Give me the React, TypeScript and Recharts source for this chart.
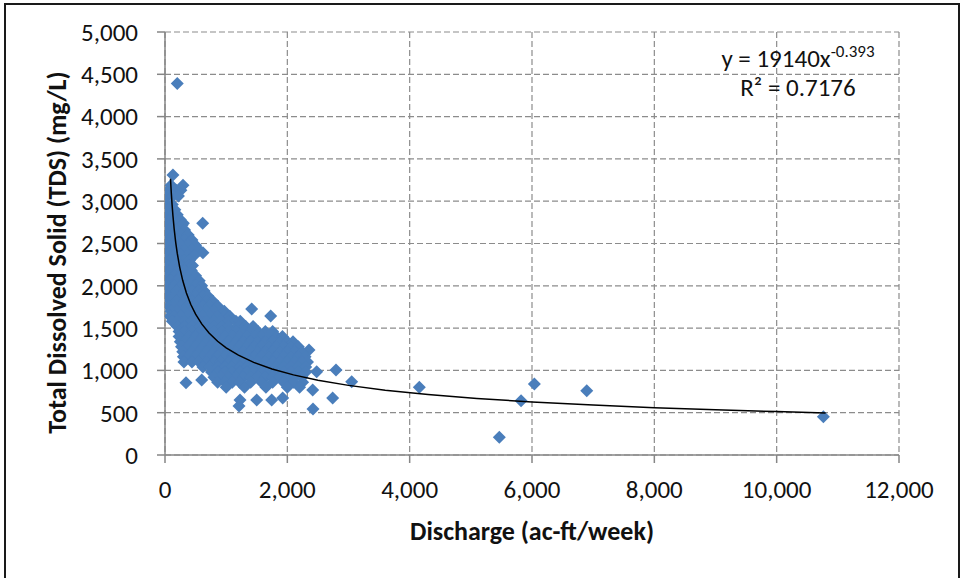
import React from 'react';
import { ScatterChart, Scatter, XAxis, YAxis, CartesianGrid } from 'recharts';

// ---- axis ticks ----
const xTicks = [0, 2000, 4000, 6000, 8000, 10000, 12000];
const yTicks = [0, 500, 1000, 1500, 2000, 2500, 3000, 3500, 4000, 4500, 5000];

// ---- dense cloud, read row by row: [TDS, discharges...] ----
const cloudTds: number[] = [
  3310, 3190, 3130, 3060, 2960, 2900, 2840, 2780, 2740, 2720, 2660, 2600, 2540, 2480, 2420, 2390,
  2360, 2300, 2240, 2180, 2120, 2060, 2000, 1940, 1880, 1820, 1760, 1726, 1700, 1643, 1640, 1580,
  1520, 1460, 1400, 1340, 1280, 1241, 1220, 1160, 1100, 1040, 1005, 985, 980, 920, 886, 866, 855,
  860, 800, 768, 674, 650, 580, 544,
];
const cloudDischarge: number[][] = [
  [130],
  [294, 100],
  [60, 180, 260],
  [40, 130, 220],
  [40, 120],
  [60, 160],
  [40, 130, 200],
  [80, 170, 250],
  [616, 300],
  [40, 150, 280],
  [90, 200, 320],
  [40, 150, 260, 380],
  [90, 200, 320, 440],
  [40, 150, 260, 380, 500],
  [90, 200, 320, 440, 560],
  [620],
  [40, 150, 260, 380, 480],
  [90, 200, 320, 400],
  [40, 150, 260, 380, 450],
  [90, 200, 320, 430],
  [40, 150, 260, 380, 500],
  [90, 200, 320, 440, 560],
  [40, 150, 260, 380, 500, 600],
  [90, 200, 320, 440, 560, 640],
  [40, 150, 260, 380, 500, 620, 700],
  [90, 200, 320, 440, 560, 680, 780],
  [60, 150, 260, 380, 500, 620, 740, 860],
  [1417],
  [100, 200, 320, 440, 560, 680, 800, 920, 970],
  [1728],
  [80, 150, 260, 380, 500, 620, 740, 860, 980, 1060],
  [120, 200, 320, 440, 560, 680, 800, 920, 1040, 1160, 1230],
  [200, 320, 440, 560, 680, 800, 920, 1040, 1200, 1320, 1440],
  [230, 320, 440, 560, 680, 800, 920, 1040, 1160, 1280, 1400, 1520, 1640, 1760],
  [230, 380, 500, 620, 740, 860, 980, 1100, 1220, 1340, 1460, 1580, 1700, 1820, 1920],
  [250, 320, 440, 560, 680, 800, 920, 1040, 1160, 1280, 1400, 1520, 1640, 1760, 1880, 2000, 2093],
  [270, 380, 500, 620, 740, 860, 980, 1100, 1220, 1340, 1460, 1580, 1700, 1820, 1940, 2060, 2180],
  [2354],
  [290, 440, 560, 680, 800, 920, 1040, 1160, 1280, 1400, 1520, 1640, 1760, 1880, 2000, 2120, 2240],
  [300, 380, 500, 620, 740, 860, 980, 1100, 1220, 1340, 1460, 1580, 1700, 1820, 1940, 2060, 2180, 2290],
  [310, 440, 560, 680, 800, 920, 1040, 1160, 1280, 1400, 1520, 1640, 1760, 1880, 2000, 2120, 2240, 2330],
  [620, 740, 860, 980, 1100, 1220, 1340, 1460, 1580, 1700, 1820, 1940, 2060, 2180, 2300],
  [2796],
  [2480],
  [760, 860, 980, 1100, 1220, 1340, 1460, 1580, 1700, 1820, 1940, 2060, 2180, 2300],
  [800, 920, 1040, 1160, 1280, 1400, 1520, 1640, 1760, 1880, 2000, 2120, 2240],
  [600],
  [3052],
  [343],
  [860, 980, 1100, 1220, 1400, 1580, 1760, 1940, 2100, 2250],
  [1000, 1300, 1650, 2000, 2200],
  [2415],
  [1924, 2741],
  [1226, 1499, 1744],
  [1210],
  [2420],
];

// ---- isolated points ----
const outlierDischarge = [200, 4158, 5466, 5821, 6039, 6895, 10764];
const outlierTds = [4390, 800, 209, 642, 839, 760, 453];

// ---- power trendline y = 19140 x^-0.393 ----
const trendCoef = 19140;
const trendExp = -0.393;
const trendX = [90, 100, 115, 130, 150, 175, 200, 240, 290, 350, 420, 500, 600, 720, 860, 1000, 1200,
  1450, 1750, 2100, 2500, 3000, 3600, 4300, 5100, 6000, 7000, 8000, 9000, 10000, 10800];

const points = [
  ...cloudTds.flatMap((t, i) => cloudDischarge[i].map((d) => ({ x: d, y: t }))),
  ...outlierDischarge.map((d, i) => ({ x: d, y: outlierTds[i] })),
];
const trend = trendX.map((x) => ({ x, y: trendCoef * Math.pow(x, trendExp) }));

const FONT = 'Carlito, Calibri, Lato, sans-serif';
const fmt = (v: number) => v.toLocaleString('en-US');

const Diamond = (props: any) => {
  const { cx, cy } = props;
  if (cx == null || cy == null) return <g />;
  const r = 6.5;
  return <path d={`M${cx},${cy - r}L${cx + r},${cy}L${cx},${cy + r}L${cx - r},${cy}Z`} fill="#4A7EBB" />;
};

const YTitle = (props: any) => {
  const vb = props.viewBox || { y: 32, height: 423 };
  const cy = vb.y + vb.height / 2 + 9;
  return (
    <text x={57} y={cy} transform={`rotate(-90, 57, ${cy})`} textAnchor="middle" dominantBaseline="central"
      fontFamily={FONT} fontSize={26} fontWeight="bold" fill="#111">
      Total Dissolved Solid (TDS) (mg/L)
    </text>
  );
};

const XTitle = (props: any) => {
  const vb = props.viewBox || { x: 165, width: 734 };
  const cx = vb.x + vb.width / 2;
  return (
    <text x={cx} y={531} textAnchor="middle" dominantBaseline="central"
      fontFamily={FONT} fontSize={26} fontWeight="bold" fill="#111">
      Discharge (ac-ft/week)
    </text>
  );
};

export default function App() {
  return (
    <div style={{ position: 'absolute', left: 0, top: 0, width: 964, height: 578, background: '#fff', overflow: 'hidden' }}>
      <div style={{ position: 'absolute', left: 4, top: 3, width: 952, height: 620, border: '2px solid #1a1a1a', borderBottom: 'none' }} />
      <ScatterChart width={964} height={578} margin={{ top: 32, right: 65, bottom: 0, left: 0 }}>
        <CartesianGrid stroke="#8c8c8c" strokeDasharray="6 3" strokeWidth={1.2} />
        <XAxis type="number" dataKey="x" domain={[0, 12000]} ticks={xTicks} tickFormatter={fmt}
          height={123} tickSize={8} tickMargin={17} interval={0}
          axisLine={{ stroke: '#868686', strokeWidth: 1.5 }} tickLine={{ stroke: '#868686', strokeWidth: 1.5 }}
          tick={{ fontFamily: FONT, fontSize: 25, fill: '#111' }} allowDataOverflow
          label={<XTitle />} />
        <YAxis type="number" dataKey="y" domain={[0, 5000]} ticks={yTicks} tickFormatter={fmt}
          width={165} tickSize={8} tickMargin={19} interval={0}
          axisLine={{ stroke: '#868686', strokeWidth: 1.5 }} tickLine={{ stroke: '#868686', strokeWidth: 1.5 }}
          tick={{ fontFamily: FONT, fontSize: 25, fill: '#111' }} allowDataOverflow
          label={<YTitle />} />
        <Scatter data={points} shape={<Diamond />} isAnimationActive={false} />
        <Scatter data={trend} line={{ stroke: '#000', strokeWidth: 1.5 }} lineType="joint"
          shape={() => <g />} isAnimationActive={false} />
      </ScatterChart>
      <svg width={964} height={578} style={{ position: 'absolute', left: 0, top: 0, pointerEvents: 'none' }}>
        <text x={798} y={67} textAnchor="middle" fontFamily={FONT} fontSize={25} fill="#111">
          y = 19140x<tspan dy={-10} fontSize={17}>-0.393</tspan>
        </text>
        <text x={798} y={96} textAnchor="middle" fontFamily={FONT} fontSize={25} fill="#111">
          R² = 0.7176
        </text>
      </svg>
    </div>
  );
}
